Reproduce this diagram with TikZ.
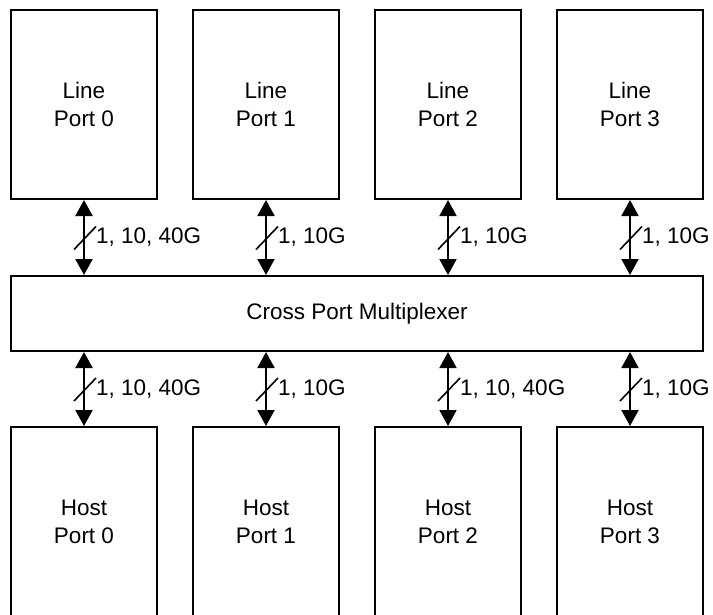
\documentclass[tikz,border=0pt]{standalone}
\usepackage{fontspec}
\setmainfont{Liberation Sans}
\usetikzlibrary{arrows.meta,calc}
\begin{document}
\begin{tikzpicture}[x=1pt,y=-1pt,
  box/.style={draw, line width=2pt, minimum width=146pt, minimum height=189pt, inner sep=0pt, align=center, font=\fontsize{22.5}{28}\selectfont},
  mux/.style={draw, line width=2pt, minimum width=692pt, minimum height=75pt, inner sep=0pt, font=\fontsize{22.5}{28}\selectfont},
  link/.style={line width=2pt, {Triangle[width=17pt,length=16pt]}-{Triangle[width=17pt,length=16pt]}},
  slash/.style={line width=1.6pt},
  lab/.style={anchor=west, inner sep=0pt, font=\fontsize{22.5}{28}\selectfont}]
\useasboundingbox (0,0) rectangle (713,614);
\fill[white] (0,0) rectangle (713,614);
\clip (0,0) rectangle (713,614);

\node[mux] (m) at (357,313.5) {Cross Port Multiplexer};

\foreach \i in {0,1,2,3} {
  \node[box] (t\i) at (84+182*\i,104.5) {Line\\Port \i};
  \node[box] (h\i) at (84+182*\i,521.5) {Host\\Port \i};
  \draw[link] (t\i.south) -- (t\i.south |- m.north);
  \draw[link] (h\i.north) -- (h\i.north |- m.south);
  \coordinate (ct\i) at ($(t\i.south)!0.5!(t\i.south |- m.north)$);
  \coordinate (ch\i) at ($(h\i.north)!0.5!(h\i.north |- m.south)$);
  \draw[slash] ($(ct\i)+(-10,12)$) -- ($(ct\i)+(12,-11)$);
  \draw[slash] ($(ch\i)+(-10,12)$) -- ($(ch\i)+(12,-11)$);
}

\node[lab] (lt0) at ([xshift=12pt]ct0) {1, 10, 40G};
\node[lab] (lt1) at ([xshift=12pt]ct1) {1, 10G};
\node[lab] (lt2) at ([xshift=12pt]ct2) {1, 10G};
\node[lab] (lt3) at ([xshift=12pt]ct3) {1, 10G};
\node[lab] (lh0) at ([xshift=12pt]ch0) {1, 10, 40G};
\node[lab] (lh1) at ([xshift=12pt]ch1) {1, 10G};
\node[lab] (lh2) at ([xshift=12pt]ch2) {1, 10, 40G};
\node[lab] (lh3) at ([xshift=12pt]ch3) {1, 10G};
\end{tikzpicture}
\end{document}
